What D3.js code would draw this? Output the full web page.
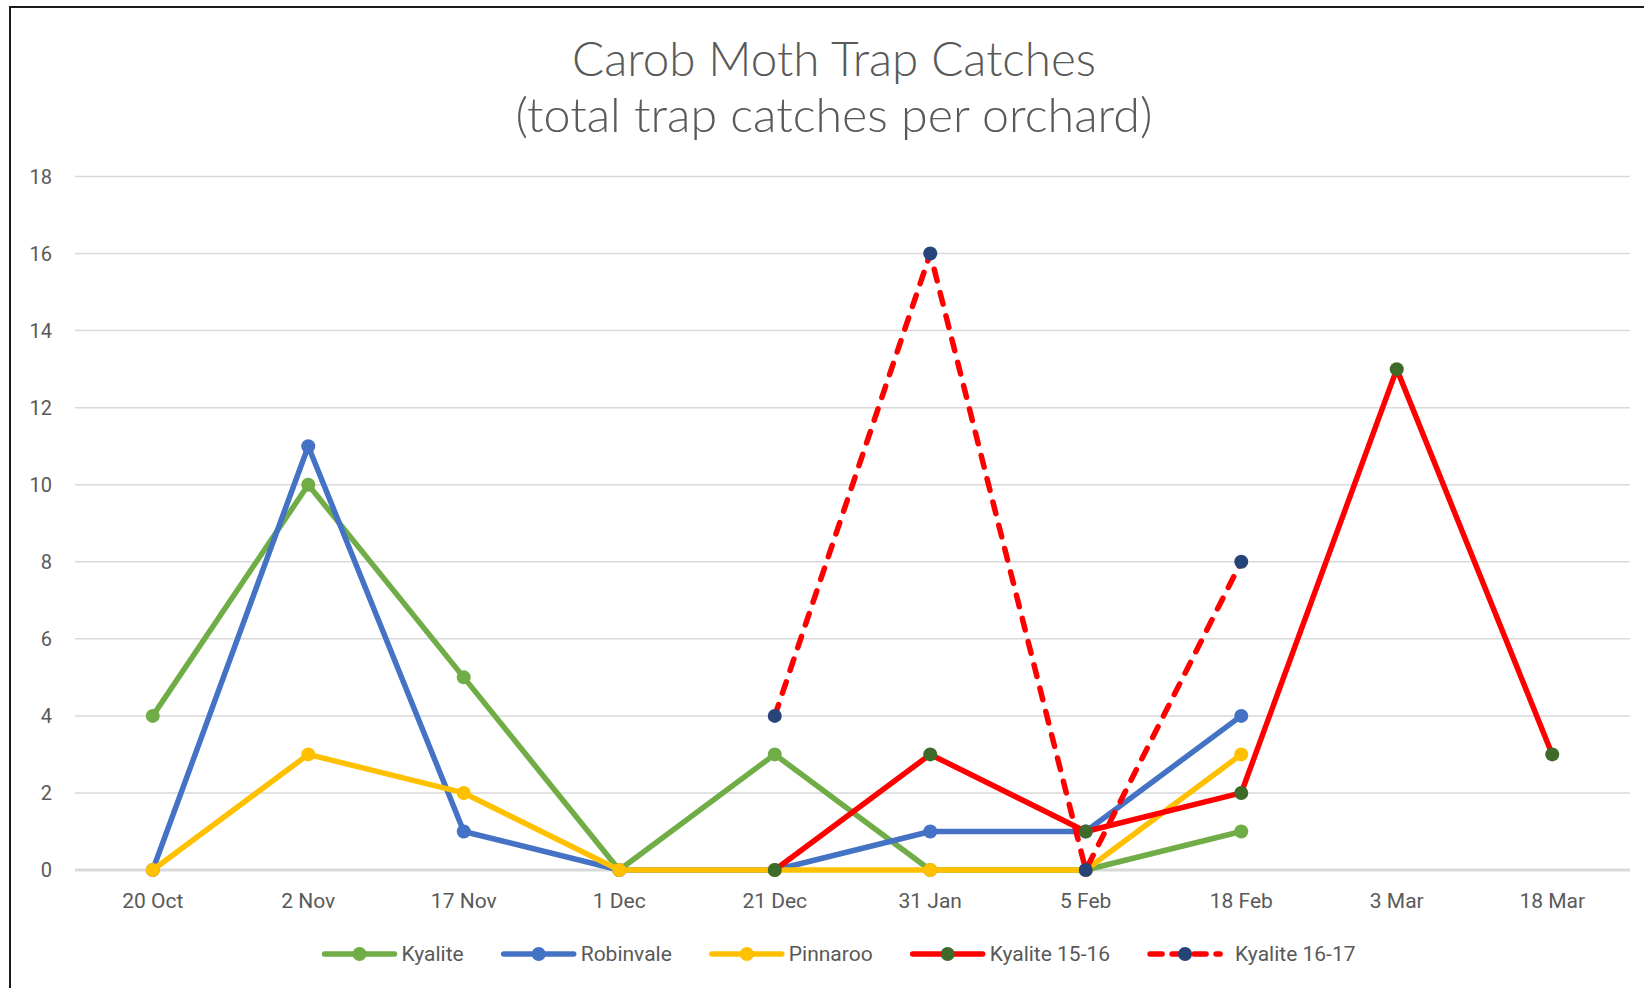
<!DOCTYPE html>
<html>
<head>
<meta charset="utf-8">
<script src="https://cdn.jsdelivr.net/npm/d3@7"></script>
<style>
  body { margin: 0; background: #fff; }
  text { font-family: Roboto, "Liberation Sans", sans-serif; fill: #595959; }
</style>
</head>
<body>
<div class="chart"></div>
<script>
// chart data
const categories = ["20 Oct", "2 Nov", "17 Nov", "1 Dec", "21 Dec", "31 Jan", "5 Feb", "18 Feb", "3 Mar", "18 Mar"];
const kyalite     = [4, 10, 5, 0, 3, 0, 0, 1, null, null];
const robinvale   = [0, 11, 1, 0, 0, 1, 1, 4, null, null];
const pinnaroo    = [0, 3, 2, 0, 0, 0, 0, 3, null, null];
const kyalite1516 = [null, null, null, null, 0, 3, 1, 2, 13, 3];
const kyalite1617 = [null, null, null, null, 4, 16, 0, 8, null, null];
const yTicks = [0, 2, 4, 6, 8, 10, 12, 14, 16, 18];
const titleLines = ["Carob Moth Trap Catches", "(total trap catches per orchard)"];

const series = [
  {name: "Kyalite", values: kyalite, line: "#70AD47", marker: "#70AD47", dash: null},
  {name: "Robinvale", values: robinvale, line: "#4472C4", marker: "#4472C4", dash: null},
  {name: "Pinnaroo", values: pinnaroo, line: "#FFC000", marker: "#FFC000", dash: null},
  {name: "Kyalite 15-16", values: kyalite1516, line: "#FF0000", marker: "#3E6B2A", dash: null},
  {name: "Kyalite 16-17", values: kyalite1617, line: "#FF0000", marker: "#264478", dash: "12,12"}
];

const width = 1644, height = 988;

const svg = d3.select(".chart").append("svg")
    .attr("width", width)
    .attr("height", height);

svg.append("rect").attr("width", width).attr("height", height).attr("fill", "#fff");

// outer border (only left + top visible)
svg.append("path")
    .attr("d", "M10," + (height + 5) + "V7H" + (width + 5))
    .attr("fill", "none")
    .attr("stroke", "#1c1c1c")
    .attr("stroke-width", 2);

const x = d3.scaleBand().domain(categories).range([75, 1630]);
const y = d3.scaleLinear().domain([0, 18]).range([870, 176.5]);
const cx = c => x(c) + x.bandwidth() / 2;

// title
svg.selectAll(".title")
    .data(titleLines)
    .enter().append("text")
    .attr("class", "title")
    .attr("x", 834)
    .attr("y", (d, i) => 76 + i * 56)
    .attr("text-anchor", "middle")
    .style("font-family", "Lato, Roboto, sans-serif")
    .style("font-size", "48px")
    .style("font-weight", 300)
    .attr("textLength", (d, i) => i == 0 ? 524 : 637)
    .attr("lengthAdjust", "spacingAndGlyphs")
    .text(d => d);

// gridlines
svg.selectAll(".grid")
    .data(yTicks)
    .enter().append("line")
    .attr("x1", 75).attr("x2", 1630)
    .attr("y1", d => y(d)).attr("y2", d => y(d))
    .attr("stroke", "#D9D9D9")
    .attr("stroke-width", d => d == 0 ? 3 : 1.5);

// y labels
svg.selectAll(".ylab")
    .data(yTicks)
    .enter().append("text")
    .attr("x", 52)
    .attr("y", d => y(d))
    .attr("dy", "0.35em")
    .attr("text-anchor", "end")
    .style("font-size", "20px")
    .text(d => d);

// x labels
svg.selectAll(".xlab")
    .data(categories)
    .enter().append("text")
    .attr("x", d => cx(d))
    .attr("y", 908)
    .attr("text-anchor", "middle")
    .style("font-size", "21px")
    .text(d => d);

const line = d3.line()
    .defined(d => d.v != null)
    .x(d => cx(d.c))
    .y(d => y(d.v));

series.forEach(s => {
  const pts = s.values.map((v, i) => ({c: categories[i], v: v}));
  const g = svg.append("g");
  g.append("path")
      .datum(pts)
      .attr("d", line)
      .attr("fill", "none")
      .attr("stroke", s.line)
      .attr("stroke-width", 5.5)
      .attr("stroke-linejoin", "round")
      .attr("stroke-linecap", "round")
      .attr("stroke-dasharray", s.dash);
  g.selectAll("circle")
      .data(pts.filter(d => d.v != null))
      .enter().append("circle")
      .attr("cx", d => cx(d.c))
      .attr("cy", d => y(d.v))
      .attr("r", 7)
      .attr("fill", s.marker);
});

// legend
const legend = svg.append("g");
let lx = 0;
series.forEach(s => {
  const g = legend.append("g");
  g.append("line")
      .attr("x1", 0).attr("x2", 70)
      .attr("y1", 0).attr("y2", 0)
      .attr("stroke", s.line)
      .attr("stroke-width", 5.5)
      .attr("stroke-linecap", "round")
      .attr("stroke-dasharray", s.dash ? "12,10" : null);
  g.append("circle").attr("cx", 35).attr("cy", 0).attr("r", 7).attr("fill", s.marker);
  const tx = s.dash ? 85 : 77;
  const t = g.append("text")
      .attr("x", tx).attr("dy", "0.35em")
      .style("font-size", "21px")
      .text(s.name);
  g.attr("transform", "translate(" + lx + ",0)");
  lx += tx + t.node().getComputedTextLength() + 40;
});
lx -= 40;
legend.attr("transform", "translate(" + (840 - lx / 2) + ",954)");
</script>
</body>
</html>
